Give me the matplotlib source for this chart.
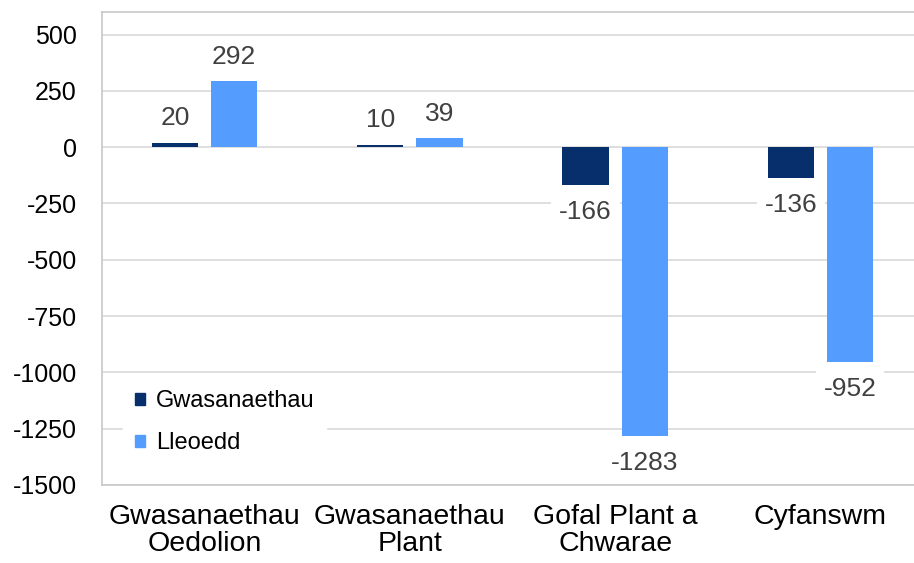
import matplotlib
matplotlib.use('Agg')

import numpy as np
import matplotlib.pyplot as plt
from matplotlib.patches import Patch

# data
categories = ["Gwasanaethau\nOedolion", "Gwasanaethau\nPlant", "Gofal Plant a\nChwarae", "Cyfanswm"]
series_names = ["Gwasanaethau", "Lleoedd"]
gwasanaethau = [20, 10, -166, -136]
lleoedd = [292, 39, -1283, -952]
yticks = [500, 250, 0, -250, -500, -750, -1000, -1250, -1500]

dark = "#062f6b"
light = "#559cff"
grid_col = "#d9d9d9"

plt.rcParams['font.family'] = ['Liberation Sans', 'DejaVu Sans']

fig = plt.figure(figsize=(9.14, 5.63), dpi=100)
# plot area runs a little past the right edge of the picture
ax = fig.add_axes([102 / 914, 78 / 563, 821 / 914, 473 / 563])

x = np.arange(len(categories))
w = 0.225
off = 0.144

b1 = ax.bar(x - off, gwasanaethau, w, color=dark, zorder=3)
b2 = ax.bar(x + off, lleoedd, w, color=light, zorder=3)

for bars, vals in [(b1, gwasanaethau), (b2, lleoedd)]:
    for bar, v in zip(bars, vals):
        cx = bar.get_x() + bar.get_width() / 2
        if v >= 0:
            dy, va = 9, 'bottom'
        else:
            dy, va = -11, 'top'
        ax.annotate(str(v), xy=(cx, v), xytext=(0, dy), textcoords='offset points',
                    ha='center', va=va, fontsize=19, color='#404040', zorder=4,
                    bbox=dict(boxstyle='square,pad=0.3', fc='white', ec='none'))

ax.set_xlim(-0.5, 3.5)
ax.set_ylim(-1500, 600)
ax.set_yticks(yticks)
ax.set_yticklabels([str(t) for t in yticks], fontsize=18)
ax.set_xticks(x)
ax.set_xticklabels(categories, fontsize=20.5, linespacing=1.05)
ax.tick_params(axis='both', length=0)
ax.tick_params(axis='y', pad=18)
ax.tick_params(axis='x', pad=14)

ax.yaxis.grid(True, color=grid_col, linewidth=1.2, zorder=0)
ax.set_axisbelow(True)
for s in ax.spines.values():
    s.set_color("#c8c8c8")
    s.set_linewidth(1.2)

handles = [Patch(color=dark), Patch(color=light)]
leg = ax.legend(handles, series_names, loc='upper left', bbox_to_anchor=(0.026, 0.225),
                fontsize=17, frameon=True, fancybox=False, framealpha=1,
                edgecolor='white', handlelength=0.42, handleheight=0.42,
                handletextpad=0.45, labelspacing=0.85, borderpad=0.5, borderaxespad=0)
leg.set_zorder(5)

fig.savefig("out.png", dpi=100)
